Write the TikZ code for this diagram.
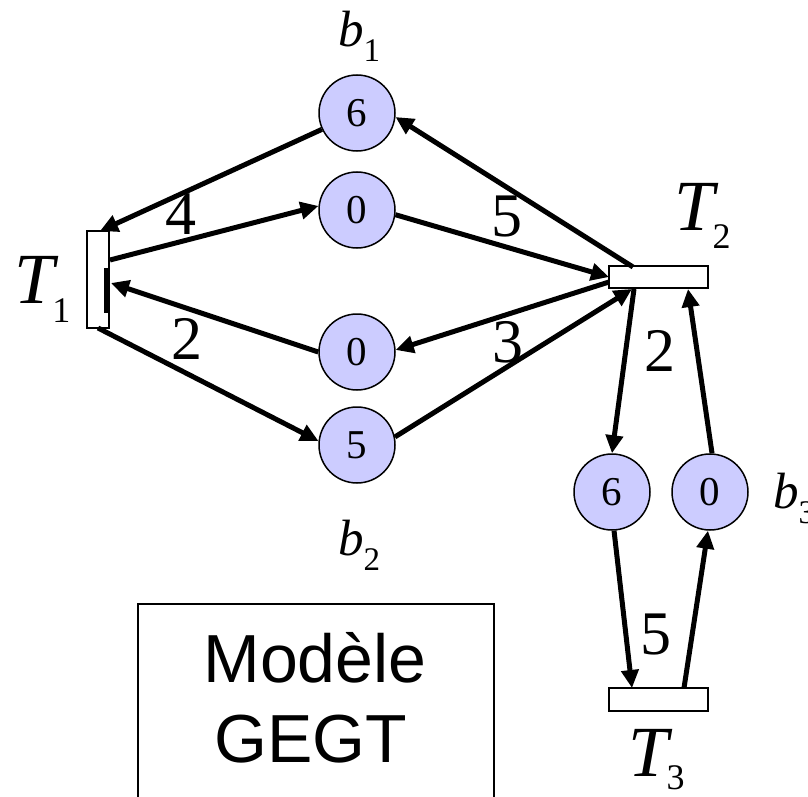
\documentclass[tikz,border=0pt]{standalone}
\usepackage{fontspec}
\setmainfont{Liberation Serif}
\newfontfamily\arialf{Liberation Sans}
\usetikzlibrary{arrows.meta}
\definecolor{placefill}{RGB}{204,204,255}
\begin{document}
\begin{tikzpicture}[x=1pt,y=-1pt,
  place/.style={circle, draw=black, line width=1.5pt, fill=placefill, minimum size=76pt, inner sep=0pt, font=\fontsize{41}{41}\selectfont},
  trans/.style={draw=black, line width=2pt, fill=white, inner sep=0pt},
  arc/.style={line width=5pt, -{Triangle[length=18pt,width=17pt]}},
  wlabel/.style={inner sep=0pt, font=\fontsize{62}{62}\selectfont},
  tname/.style={anchor=base west, inner sep=0pt, font=\fontsize{72}{72}\selectfont},
  bname/.style={anchor=base west, inner sep=0pt, font=\fontsize{51}{51}\selectfont},
  boxtext/.style={anchor=base, inner sep=0pt, font=\arialf\fontsize{68}{68}\selectfont},
]
\useasboundingbox (0,0) rectangle (808,797);

% transitions
\node[trans, minimum width=22pt, minimum height=97pt] (T1) at (98,279.5) {};
\node[fill=black, minimum width=5pt, minimum height=45pt, inner sep=0pt] (T1bar) at (106.5,290.5) {};
\node[trans, minimum width=99pt, minimum height=22pt] (T2) at (658.5,277) {};
\node[trans, minimum width=99pt, minimum height=23pt] (T3) at (658.5,699.5) {};

% places
\node[place] (b1) at (357,113) {6};
\node[place] (p2) at (357,210) {0};
\node[place] (p3) at (357,352) {0};
\node[place] (b2) at (357,445) {5};
\node[place] (p5) at (612,492) {6};
\node[place] (b3) at (710,492) {0};

% attachment points on transitions
\coordinate (t1a) at (100,231);
\coordinate (t1b) at (110,260);
\coordinate (t1c) at (111,283);
\coordinate (t1d) at (98,328);
\coordinate (t2a) at (609,277);
\coordinate (t2b) at (633,267);
\coordinate (t2c) at (609,282);
\coordinate (t2d) at (632,289);
\coordinate (t2e) at (634,289);
\coordinate (t2f) at (688,289);
\coordinate (t3a) at (632,688);
\coordinate (t3b) at (684,688);

% arcs
\draw[arc] (b1.205) -- (t1a);
\draw[arc] (t1b) -- (p2.174);
\draw[arc] (p2.-7) -- (t2a);
\draw[arc] (t2b) -- (b1.-6);
\draw[arc] (t2c) -- (p3.3);
\draw[arc] (p3.180) -- (t1c);
\draw[arc] (t1d) -- (b2.174);
\draw[arc] (b2.12) -- (t2d);
\draw[arc] (t2e) -- (p5.90);
\draw[arc] (b3.87) -- (t2f);
\draw[arc] (p5.-87) -- (t3a);
\draw[arc] (t3b) -- (b3.-93);

% weights
\node[wlabel] (w4) at (181,214) {4};
\node[wlabel] (w5) at (507,217) {5};
\node[wlabel] (w2) at (187,339) {2};
\node[wlabel] (w3) at (508,342) {3};
\node[wlabel] (w2b) at (660,351) {2};
\node[wlabel] (w5b) at (656,634) {5};

% names
\node[tname] (T1l) at (14,303) {\textit{T}\kern-6pt\raisebox{-19pt}{\fontsize{36}{36}\selectfont 1}};
\node[tname] (T2l) at (674,230) {\textit{T}\kern-6pt\raisebox{-18pt}{\fontsize{36}{36}\selectfont 2}};
\node[tname] (T3l) at (628,776) {\textit{T}\kern-6pt\raisebox{-13pt}{\fontsize{36}{36}\selectfont 3}};
\node[bname] (b1l) at (338,47) {\textit{b}\raisebox{-15pt}{\fontsize{33}{33}\selectfont 1}};
\node[bname] (b2l) at (338,555) {\textit{b}\raisebox{-15pt}{\fontsize{33}{33}\selectfont 2}};
\node[bname] (b3l) at (773,508) {\textit{b}\raisebox{-15pt}{\fontsize{33}{33}\selectfont 3}};

% model box
\node[draw=black, line width=2pt, minimum width=356pt, minimum height=220pt, inner sep=0pt, anchor=north west] (box) at (137,603) {};
\node[boxtext] (m1) at (315,682) {Modèle};
\node[boxtext] (m2) at (311,762) {GEGT};
\end{tikzpicture}
\end{document}
